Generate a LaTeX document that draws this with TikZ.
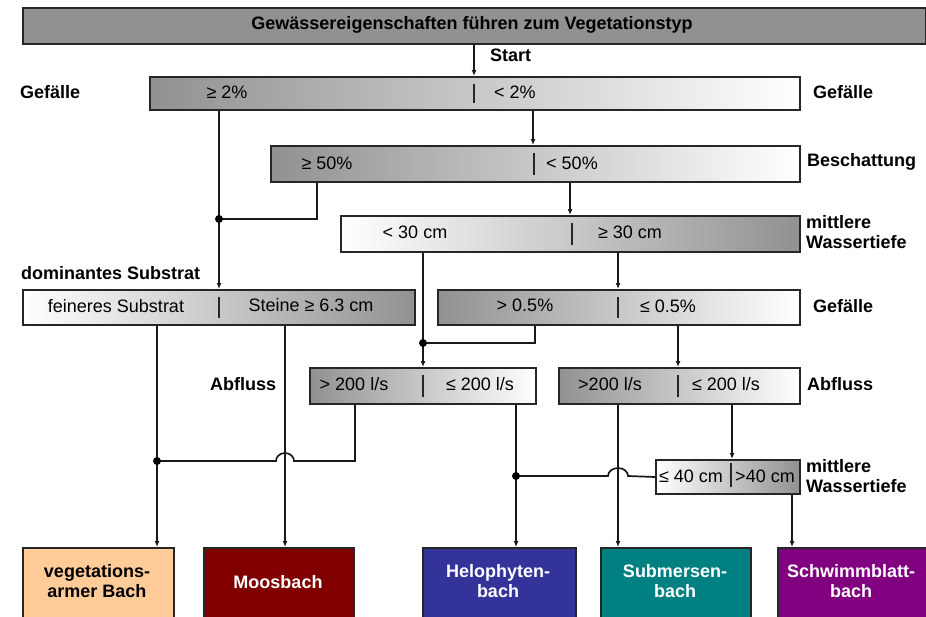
\documentclass[tikz,border=0pt]{standalone}
\usepackage{fontspec}
\setmainfont{Liberation Sans}
\usetikzlibrary{arrows.meta}
\definecolor{bgray}{RGB}{145,145,145}
\definecolor{vegc}{RGB}{255,204,153}
\definecolor{moosc}{RGB}{128,0,0}
\definecolor{heloc}{RGB}{51,51,153}
\definecolor{submc}{RGB}{0,128,128}
\definecolor{schwc}{RGB}{128,0,128}
\begin{document}
\begin{tikzpicture}[x=1pt,y=-1pt,
  font=\fontsize{18}{20}\selectfont,
  dbox/.style={draw=black!85, line width=2pt, rectangle, anchor=north west, inner sep=0pt},
  dl/.style={dbox, left color=bgray, right color=white},
  dr/.style={dbox, left color=white, right color=bgray},
  lab/.style={font=\fontsize{18}{20}\selectfont\bfseries, anchor=west, inner sep=0pt, align=left},
  txt/.style={inner sep=0pt},
  divl/.style={line width=1.8pt, black!85},
  conn/.style={line width=1.7pt, black!90},
  arr/.style={conn, -{Latex[length=6pt,width=5pt]}},
  jdot/.style={circle, fill=black, inner sep=0pt, minimum size=8pt},
  res/.style={draw=black!85, line width=2pt, rectangle, anchor=north west, inner sep=0pt, minimum height=80pt},
  restxt/.style={font=\fontsize{18}{20}\selectfont\bfseries, align=center, inner sep=0pt, text=white}
]
\useasboundingbox (0,0) rectangle (926,616);
\clip (0,0) rectangle (926,616);

% title
\node[dbox, fill=bgray, minimum width=903pt, minimum height=36pt] (title) at (22,7) {};
\node[txt, font=\fontsize{18}{20}\selectfont\bfseries] (titletxt) at (472,25) {Gewässereigenschaften führen zum Vegetationstyp};
\node[lab] (start) at (490,55) {Start};

% decision boxes
\node[dl, minimum width=650pt, minimum height=33pt] (b1) at (149,76) {};
\node[dl, minimum width=529pt, minimum height=36pt] (b2) at (270,145) {};
\node[dr, minimum width=459pt, minimum height=36pt] (b3) at (340,215) {};
\node[dr, minimum width=392pt, minimum height=35pt] (sub) at (22,289) {};
\node[dl, minimum width=362pt, minimum height=35pt] (b4) at (437,289) {};
\node[dl, minimum width=226pt, minimum height=36pt] (ab1) at (309,367) {};
\node[dl, minimum width=241pt, minimum height=36pt] (ab2) at (558,367) {};
\node[dr, minimum width=144pt, minimum height=34pt] (d40) at (655,459) {};

% dividers
\draw[divl] (474,84) -- (474,103);
\draw[divl] (534,153) -- (534,175);
\draw[divl] (572,223) -- (572,245);
\draw[divl] (219,297) -- (219,318);
\draw[divl] (618,297) -- (618,318);
\draw[divl] (423,375) -- (423,397);
\draw[divl] (678,375) -- (678,397);
\draw[divl] (731,463) -- (731,487);

% box texts
\node[txt] (t1a) at (227,92) {≥ 2\%};
\node[txt] (t1b) at (515,92) {< 2\%};
\node[txt] (t2a) at (327,163) {≥ 50\%};
\node[txt] (t2b) at (572,163) {< 50\%};
\node[txt] (t3a) at (415,232) {< 30 cm};
\node[txt] (t3b) at (630,232) {≥ 30 cm};
\node[txt] (tsa) at (116,306) {feineres Substrat};
\node[txt] (tsb) at (311,305) {Steine ≥ 6.3 cm};
\node[txt] (t4a) at (525,305) {> 0.5\%};
\node[txt] (t4b) at (668,306) {≤ 0.5\%};
\node[txt] (t5a) at (354,384) {> 200 l/s};
\node[txt] (t5b) at (480,384) {≤ 200 l/s};
\node[txt] (t6a) at (610,384) {>200 l/s};
\node[txt] (t6b) at (726,384) {≤ 200 l/s};
\node[txt] (t7a) at (691,476) {≤ 40 cm};
\node[txt] (t7b) at (765,476) {>40 cm};

% side labels
\node[lab] (lg1) at (20,92) {Gefälle};
\node[lab] (rg1) at (813,92) {Gefälle};
\node[lab] (rb) at (807,162) {Beschattung};
\node[lab] (rw1) at (806,232) {mittlere\\Wassertiefe};
\node[lab] (lds) at (21,273) {dominantes Substrat};
\node[lab] (rg2) at (813,306) {Gefälle};
\node[lab] (la) at (210,384) {Abfluss};
\node[lab] (ra) at (807,384) {Abfluss};
\node[lab] (rw2) at (806,476) {mittlere\\Wassertiefe};

% result boxes
\node[res, fill=vegc, minimum width=151pt] (veg) at (22,547) {};
\node[res, fill=moosc, minimum width=150pt] (moos) at (203,547) {};
\node[res, fill=heloc, minimum width=153pt] (helo) at (422,547) {};
\node[res, fill=submc, minimum width=150pt] (subm) at (600,547) {};
\node[res, fill=schwc, minimum width=150pt] (schw) at (777,547) {};
\node[restxt, text=black] (vegt) at (97,581) {vegetations-\\armer Bach};
\node[restxt] (moost) at (278,582) {Moosbach};
\node[restxt] (helot) at (498,581) {Helophyten-\\bach};
\node[restxt] (submt) at (675,581) {Submersen-\\bach};
\node[restxt] (schwt) at (851,581) {Schwimmblatt-\\bach};

% connection points
\coordinate (p474) at (474,0);
\coordinate (p533) at (533,0);
\coordinate (p317) at (317,0);
\coordinate (p570) at (570,0);
\coordinate (p618) at (618,0);
\coordinate (p535) at (535,0);
\coordinate (p678) at (678,0);
\coordinate (p157) at (157,0);
\coordinate (p285) at (285,0);
\coordinate (p355) at (355,0);
\coordinate (p732) at (732,0);
\coordinate (p792) at (792,0);
\coordinate (j1) at (219,219);
\coordinate (j2) at (423,343);
\coordinate (j3) at (157,461);
\coordinate (j4) at (516,476);

% connectors
\draw[arr] (title.south -| p474) -- (b1.north -| p474);
\draw[conn] (b1.south -| j1) -- (j1);
\draw[arr] (j1) -- (sub.north -| j1);
\draw[arr] (b1.south -| p533) -- (b2.north -| p533);
\draw[conn] (b2.south -| p317) |- (j1);
\draw[arr] (b2.south -| p570) -- (b3.north -| p570);
\draw[conn] (b3.south -| j2) -- (j2);
\draw[arr] (j2) -- (ab1.north -| j2);
\draw[arr] (b3.south -| p618) -- (b4.north -| p618);
\draw[conn] (b4.south -| p535) |- (j2);
\draw[arr] (b4.south -| p678) -- (ab2.north -| p678);
\draw[conn] (sub.south -| j3) -- (j3);
\draw[arr] (j3) -- (veg.north -| j3);
\draw[arr] (sub.south -| p285) -- (moos.north -| p285);
\draw[conn] (ab1.south -| p355) |- (294,461) arc[start angle=0, end angle=180, x radius=9pt, y radius=8pt] -- (j3);
\draw[conn] (ab1.south -| j4) -- (j4);
\draw[arr] (j4) -- (helo.north -| j4);
\draw[conn] (d40.west) -- (628,476) arc[start angle=0, end angle=180, x radius=10pt, y radius=8pt] -- (j4);
\draw[arr] (ab2.south -| p618) -- (subm.north -| p618);
\draw[arr] (ab2.south -| p732) -- (d40.north -| p732);
\draw[arr] (d40.south -| p792) -- (schw.north -| p792);

% junction dots
\node[jdot] (d1) at (j1) {};
\node[jdot] (d2) at (j2) {};
\node[jdot] (d3) at (j3) {};
\node[jdot] (d4) at (j4) {};
\end{tikzpicture}
\end{document}
